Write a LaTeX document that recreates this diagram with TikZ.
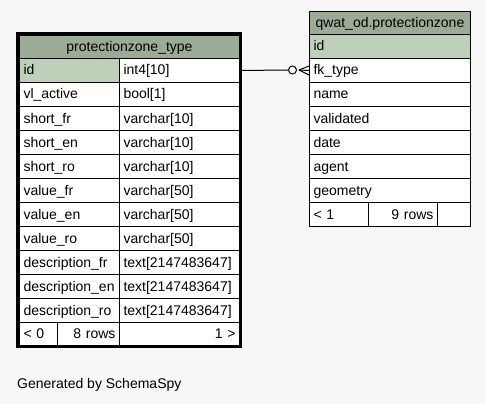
\documentclass[tikz,border=0pt]{standalone}
\usepackage{fontspec}
\setmainfont{Liberation Sans}
\definecolor{bgc}{HTML}{F7F7F7}
\definecolor{headc}{HTML}{9BAB96}
\definecolor{pkc}{HTML}{BED1B8}
\begin{document}
\begin{tikzpicture}[x=1pt,y=-1pt,
  cell/.style={draw=black, line width=1pt, rectangle, fill=white,
    inner xsep=4pt, inner ysep=0pt, minimum height=24pt,
    text height=11pt, text depth=2pt, anchor=north west,
    font=\fontsize{14}{16}\selectfont},
  lcell/.style={cell, align=left, text width=#1},
  rcell/.style={cell, align=right, text width=#1},
  ccell/.style={cell, align=center, text width=#1},
  head/.style={fill=headc, minimum height=23pt},
  pk/.style={fill=pkc},
  link/.style={draw=black, line width=1pt}]

% canvas
\fill[bgc] (0,0) rectangle (485,404);
\useasboundingbox (0,0) rectangle (485,404);

% ---- protectionzone_type ----
\node[ccell=212pt, head] (pt-head) at (19,35) {protectionzone\_type};
\foreach \n/\t [count=\i from 0] in {
    id/int4[10], vl\_active/bool[1], short\_fr/varchar[10],
    short\_en/varchar[10], short\_ro/varchar[10], value\_fr/varchar[50],
    value\_en/varchar[50], value\_ro/varchar[50],
    description\_fr/text[2147483647], description\_en/text[2147483647],
    description\_ro/text[2147483647]} {
  \ifnum\i=0
    \node[lcell=92pt, pk] (pt-n\i) at (19,58+24*\i) {\n};
  \else
    \node[lcell=92pt] (pt-n\i) at (19,58+24*\i) {\n};
  \fi
  \node[lcell=112pt] (pt-t\i) at (119,58+24*\i) {\t};
}
\node[lcell=30pt, minimum height=23pt] (pt-prev) at (19,322) {< 0};
\node[rcell=54pt, minimum height=23pt] (pt-rows) at (57,322) {8 rows};
\node[rcell=112pt, minimum height=23pt] (pt-next) at (119,322) {1 >};
\draw[line width=3pt] (17.5,33.5) rectangle (240.5,346.5);

% ---- qwat_od.protectionzone ----
\node[ccell=153pt, head] (pz-head) at (309,11) {qwat\_od.protectionzone};
\foreach \n [count=\i from 0] in {id, fk\_type, name, validated, date, agent, geometry} {
  \ifnum\i=0
    \node[lcell=153pt, pk] (pz-n\i) at (309,34+24*\i) {\n};
  \else
    \node[lcell=153pt] (pz-n\i) at (309,34+24*\i) {\n};
  \fi
}
\node[lcell=51pt] (pz-prev) at (309,202) {< 1};
\node[rcell=61pt] (pz-rows) at (368,202) {9 rows};
\node[lcell=25pt] (pz-next) at (437,202) {};

% ---- relationship: id -> fk_type (zero or many) ----
\node[circle, draw=black, line width=1pt, fill=bgc, minimum size=8pt, inner sep=0pt]
  (opt) at (292.5,70) {};
\coordinate (crow) at (299,70);
\draw[link] (pt-t0.east) -- (opt.west);
\draw[link] (crow) -- (pz-n1.west);
\draw[link] (crow) -- ([yshift=4.5pt]pz-n1.west);
\draw[link] (crow) -- ([yshift=-4.5pt]pz-n1.west);

% footer
\node[anchor=base west, inner sep=0pt, font=\fontsize{14}{16}\selectfont]
  (gen) at (17,388) {Generated by SchemaSpy};
\end{tikzpicture}
\end{document}
